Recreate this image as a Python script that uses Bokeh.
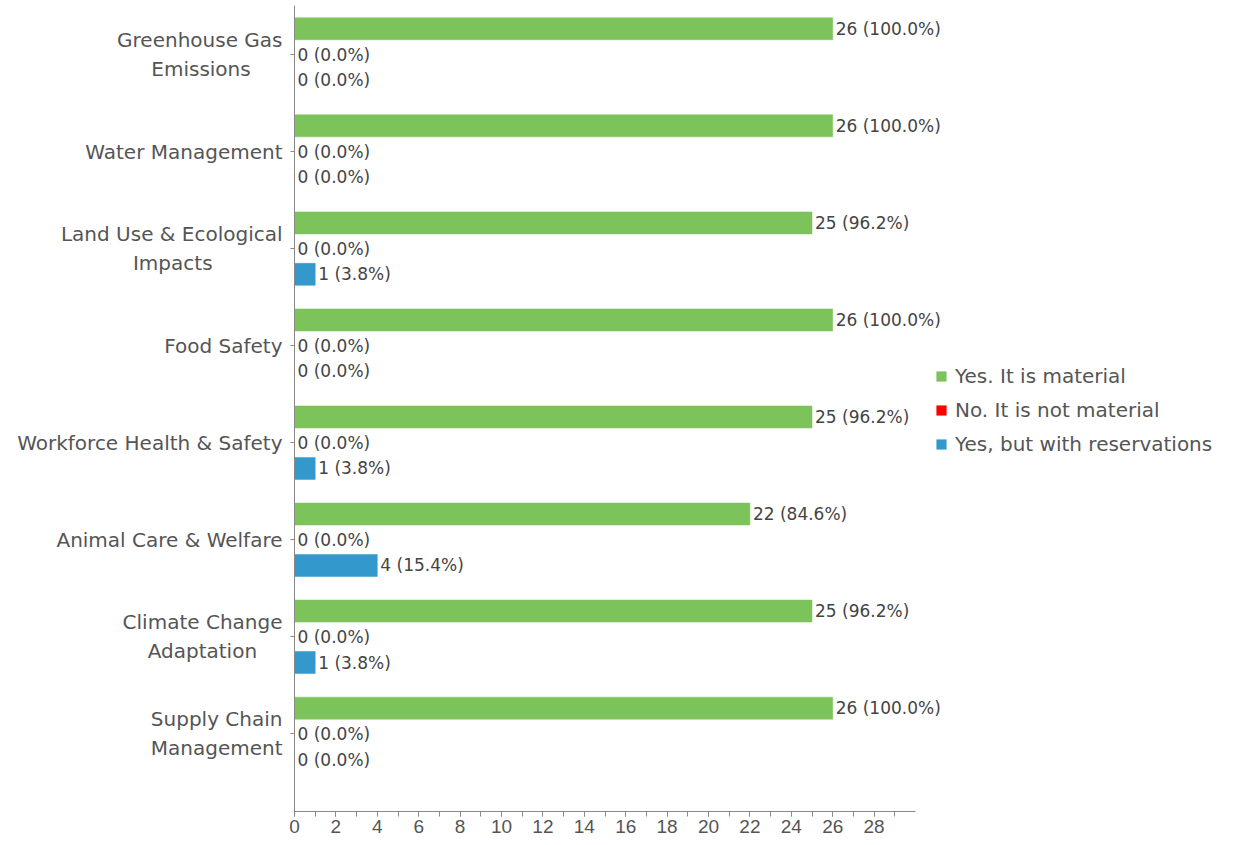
from bokeh.plotting import figure
from bokeh.models import (Range1d, FixedTicker, ColumnDataSource, Legend, LegendItem)
from bokeh.core.properties import value
from bokeh.embed import file_html
from bokeh.resources import INLINE

NB = "\u00a0"
categories = ["Greenhouse Gas\nEmissions" + NB * 5, "Water Management",
              "Land Use & Ecological\nImpacts" + NB * 11,
              "Food Safety", "Workforce Health & Safety", "Animal Care & Welfare",
              "Climate Change\nAdaptation" + NB * 4, "Supply Chain\nManagement"]
yes_material = [26, 26, 25, 26, 25, 22, 25, 26]
not_material = [0, 0, 0, 0, 0, 0, 0, 0]
with_reservations = [0, 0, 1, 0, 1, 4, 1, 0]
series_names = ["Yes. It is material", "No. It is not material", "Yes, but with reservations"]
series_colors = ["#7DC35B", "#FF0000", "#3399CC"]
total = 26
x_ticks = list(range(0, 29, 2))
x_axis_end = 30

FONT = "DejaVu Sans"

# frame spans full width to the right edge; the value axis itself stops at 30
p = figure(width=1240, height=845, output_backend="svg", toolbar_location=None,
           x_range=Range1d(0, x_axis_end * 946 / 621), y_range=Range1d(7.80, -0.505),
           min_border_left=294, min_border_right=0, min_border_top=5, min_border_bottom=34)
p.outline_line_color = None
p.xgrid.visible = False
p.ygrid.visible = False
p.background_fill_color = "white"

offsets = [-0.265, 0.0, 0.265]
renderers = []
for s, (vals, col, off) in enumerate(zip([yes_material, not_material, with_reservations],
                                       series_colors, offsets)):
    ys = [i + off for i in range(len(categories))]
    labels = [f"{v} ({v / total * 100:.1f}%)" for v in vals]
    src = ColumnDataSource(dict(y=ys, right=vals, lab=labels))
    r = p.hbar(y="y", right="right", left=0, height=0.227, source=src,
               fill_color=col, line_color=col, line_width=0.5)
    renderers.append(r)
    p.text(x="right", y="y", text="lab", source=src, x_offset=3,
           text_baseline="middle", text_align="left", text_font=value(FONT),
           text_font_size="17px", text_color="#444444")

legend = Legend(items=[LegendItem(label=n, renderers=[r]) for n, r in zip(series_names, renderers)],
                location=(641, 355), orientation="vertical", glyph_width=12, glyph_height=12,
                label_height=24, spacing=10, padding=0, margin=0, border_line_alpha=0,
                background_fill_alpha=0,
                label_text_font=FONT, label_text_font_size="20px", label_text_color="#555555",
                label_standoff=8)
p.add_layout(legend, "center")

# x axis
p.xaxis.bounds = (0, x_axis_end)
p.xaxis.ticker = FixedTicker(ticks=x_ticks, minor_ticks=list(range(0, x_axis_end)))
p.xaxis.axis_line_color = "#888888"
p.xaxis.major_tick_line_color = "#888888"
p.xaxis.minor_tick_line_color = "#888888"
p.xaxis.major_tick_out = 5
p.xaxis.major_tick_in = 0
p.xaxis.minor_tick_out = 5
p.xaxis.minor_tick_in = 0
p.xaxis.major_label_text_font = "Liberation Sans"
p.xaxis.major_label_text_font_size = "19px"
p.xaxis.major_label_text_color = "#555555"
p.xaxis.major_label_standoff = 3

# y axis
p.yaxis.ticker = FixedTicker(ticks=list(range(len(categories))))
p.yaxis.major_label_overrides = {i: c for i, c in enumerate(categories)}
p.yaxis.axis_line_color = "#888888"
p.yaxis.major_tick_line_color = "#888888"
p.yaxis.minor_tick_line_color = None
p.yaxis.major_tick_out = 4
p.yaxis.major_tick_in = 0
p.yaxis.major_label_text_font = FONT
p.yaxis.major_label_text_font_size = "20px"
p.yaxis.major_label_text_color = "#555555"
p.yaxis.major_label_standoff = 8

open("out.html", "w").write(file_html(p, INLINE))
